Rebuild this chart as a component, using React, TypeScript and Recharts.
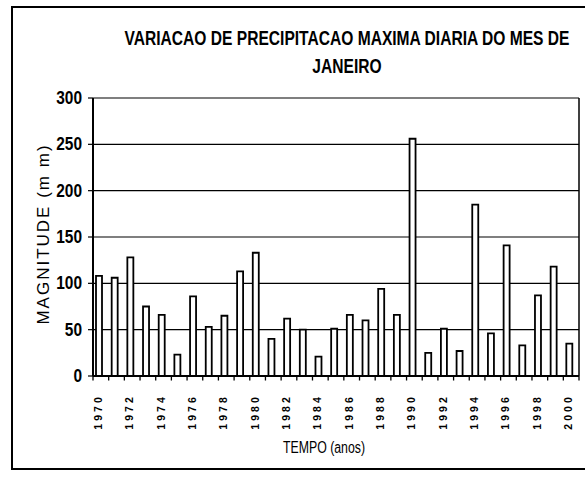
import React from "react";
import { BarChart, Bar, XAxis, YAxis, CartesianGrid, ReferenceLine } from "recharts";

const years = [
  "1970", "1971", "1972", "1973", "1974", "1975", "1976", "1977", "1978", "1979",
  "1980", "1981", "1982", "1983", "1984", "1985", "1986", "1987", "1988", "1989",
  "1990", "1991", "1992", "1993", "1994", "1995", "1996", "1997", "1998", "1999", "2000",
];
const maxRain = [
  108, 106, 128, 75, 66, 23, 86, 53, 65, 113,
  133, 40, 62, 50, 21, 51, 66, 60, 94, 66,
  256, 25, 51, 27, 185, 46, 141, 33, 87, 118, 35,
];
const yTicks = [0, 50, 100, 150, 200, 250, 300];

const titleLine1 = "VARIACAO DE PRECIPITACAO MAXIMA DIARIA DO MES DE";
const titleLine2 = "JANEIRO";
const yTitle = "MAGNITUDE (m m)";
const xTitle = "TEMPO (anos)";

const data = years.map((y, i) => ({ year: y, value: maxRain[i] }));

const SANS = "'Liberation Sans', Arial, sans-serif";

const YearTick = (props: any) => {
  const { x, y, payload, index } = props;
  const i = typeof index === "number" ? index : payload.index;
  const half = typeof payload.offset === "number" ? payload.offset : 0;
  const axisY = y - 15;
  const tx = x - 3;
  const ty = y + 3;
  return (
    <g>
      <line x1={x - half} x2={x - half} y1={axisY} y2={axisY + 4.5} stroke="#000" strokeWidth={1.3} />
      {i === years.length - 1 && (
        <line x1={x + half} x2={x + half} y1={axisY} y2={axisY + 4.5} stroke="#000" strokeWidth={1.3} />
      )}
      {i % 2 === 0 && (
        <text
          x={tx}
          y={ty}
          transform={`rotate(-90, ${tx}, ${ty})`}
          textAnchor="end"
          dominantBaseline="central"
          fontFamily={SANS}
          fontWeight="bold"
          fontSize={10.5}
          letterSpacing={3.1}
          fill="#000"
        >
          {payload.value}
        </text>
      )}
    </g>
  );
};

const ValueTick = (props: any) => {
  const { x, y, payload } = props;
  return (
    <text
      transform={`translate(${x}, ${y}) scale(0.86, 1)`}
      textAnchor="end"
      dominantBaseline="central"
      fontFamily={SANS}
      fontWeight="bold"
      fontSize={18}
      fill="#000"
    >
      {payload.value}
    </text>
  );
};

export default function App() {
  return (
    <div style={{ position: "absolute", left: 0, top: 0, width: 585, height: 477, background: "#fff", overflow: "hidden" }}>
      <div
        style={{
          position: "absolute",
          left: 11,
          top: 6,
          width: 574,
          height: 464,
          borderLeft: "2px solid #000",
          borderTop: "2px solid #000",
          borderBottom: "2px solid #000",
          boxSizing: "border-box",
        }}
      />
      <div
        style={{
          position: "absolute",
          left: 47,
          top: 24,
          width: 600,
          transform: "scaleX(0.76)",
          transformOrigin: "300px 0px",
          whiteSpace: "nowrap",
          fontFamily: SANS,
          fontWeight: "bold",
          fontSize: 20.5,
          lineHeight: "28px",
          textAlign: "center",
          color: "#000",
        }}
      >
        <div>{titleLine1}</div>
        <div>{titleLine2}</div>
      </div>
      <div
        style={{
          position: "absolute",
          left: 43.5,
          top: 234,
          transform: "translate(-50%, -50%) rotate(-90deg)",
          whiteSpace: "nowrap",
          fontFamily: SANS,
          fontSize: 17,
          letterSpacing: 2,
          color: "#000",
        }}
      >
        {yTitle}
      </div>
      <div
        style={{
          position: "absolute",
          left: 224,
          top: 437,
          width: 200,
          transform: "scaleX(0.77)",
          transformOrigin: "100px 0px",
          textAlign: "center",
          whiteSpace: "nowrap",
          fontFamily: SANS,
          fontSize: 16,
          lineHeight: "22px",
          color: "#000",
        }}
      >
        {xTitle}
      </div>
      <div style={{ position: "absolute", left: 0, top: 0 }}>
        <BarChart
          width={585}
          height={477}
          data={data}
          margin={{ top: 98, right: 6, bottom: 0, left: 0 }}
          barGap={0}
        >
          <CartesianGrid vertical={false} stroke="#000" strokeWidth={1.2} />
          <XAxis
            dataKey="year"
            type="category"
            height={101}
            interval={0}
            tickSize={0}
            tickMargin={15}
            tickLine={false}
            axisLine={{ stroke: "#000", strokeWidth: 2 }}
            tick={<YearTick />}
          />
          <YAxis
            width={93}
            domain={[0, 300]}
            ticks={yTicks}
            tickSize={5}
            tickMargin={6}
            axisLine={{ stroke: "#000", strokeWidth: 2 }}
            tickLine={{ stroke: "#000", strokeWidth: 1.2 }}
            tick={<ValueTick />}
          />
          <ReferenceLine x="2000" position="end" ifOverflow="visible" stroke="#000" strokeWidth={1.5} />
          <Bar
            dataKey="value"
            barSize={6}
            fill="#fff"
            stroke="#000"
            strokeWidth={1.8}
            isAnimationActive={false}
          />
          <Bar
            dataKey="spacer"
            barSize={4}
            fill="none"
            isAnimationActive={false}
          />
        </BarChart>
      </div>
    </div>
  );
}
